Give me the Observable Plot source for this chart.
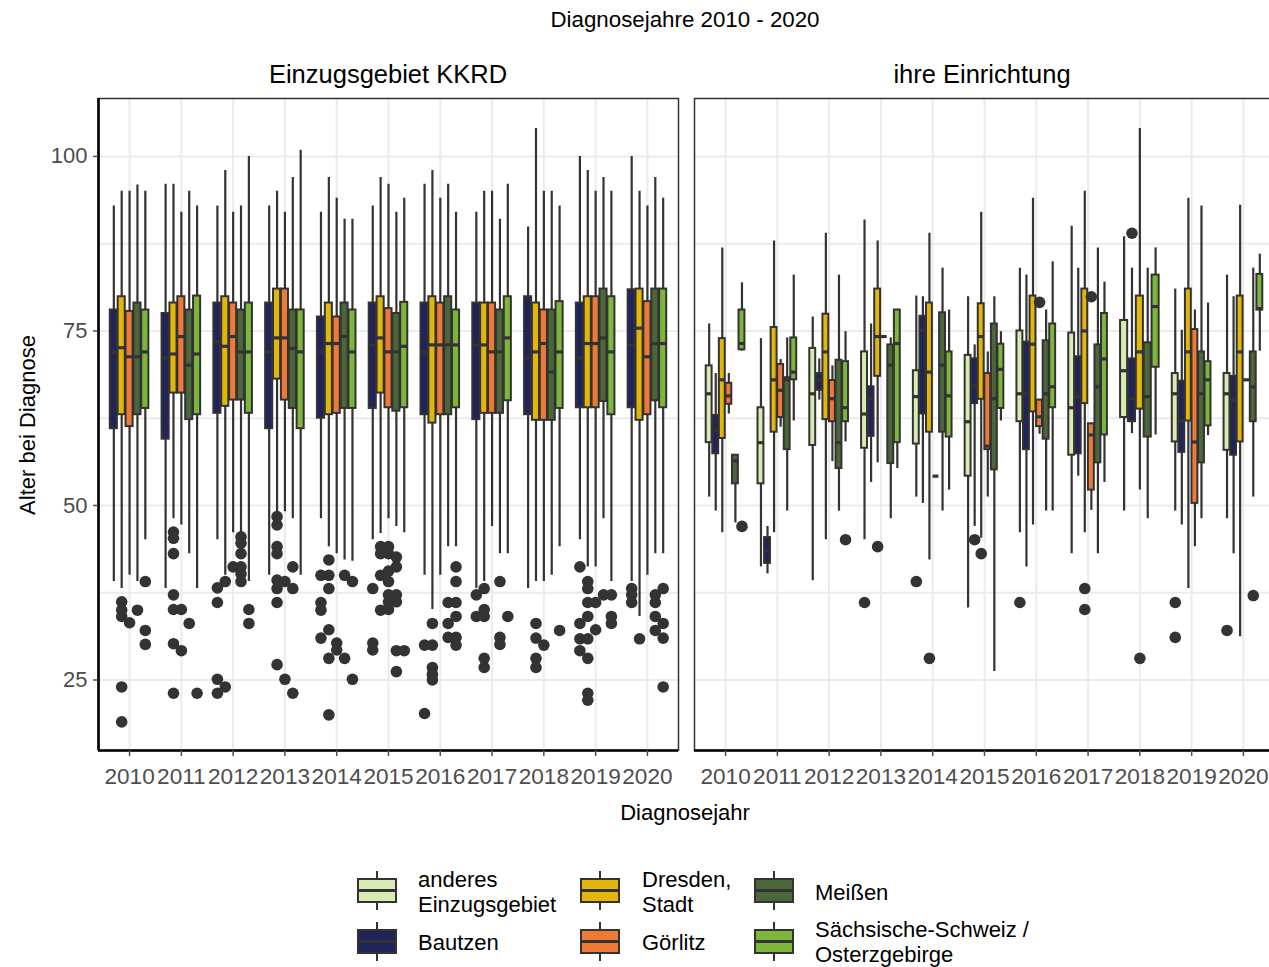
<!DOCTYPE html>
<html>
<head>
<meta charset="utf-8">
<script src="https://cdn.jsdelivr.net/npm/d3@7"></script>
<script src="https://cdn.jsdelivr.net/npm/@observablehq/plot@0.6"></script>
<style>
  html, body { margin: 0; padding: 0; width: 1269px; height: 967px; overflow: hidden; background: #fff; }
  body { position: relative; font-family: "Liberation Sans", Arial, sans-serif; color: #000; }
  .abs { position: absolute; white-space: nowrap; }
  .ctr { transform: translate(-50%, -50%); }
  .key { position: absolute; width: 40px; height: 25px; box-sizing: border-box; border: 2px solid #333; }
  .key .med { position: absolute; left: 0; right: 0; top: 50%; height: 3px; margin-top: -1.5px; background: #333; }
  .stub { position: absolute; width: 2px; background: #333; }
  .ltxt { position: absolute; font-size: 22px; line-height: 25px; white-space: nowrap; transform: translateY(-50%); }
</style>
</head>
<body>
<script>
// ---------------- data ----------------
const years = [2010, 2011, 2012, 2013, 2014, 2015, 2016, 2017, 2018, 2019, 2020];
const groups = ["anderes Einzugsgebiet", "Bautzen", "Dresden, Stadt", "Görlitz", "Meißen", "Sächsische-Schweiz / Osterzgebirge"];
const groupColors = ["#d7ebb2", "#20245a", "#e3b60c", "#ef7a38", "#4b6638", "#7cb63b"];
const legendLabels = [["anderes", "Einzugsgebiet"], ["Bautzen"], ["Dresden,", "Stadt"], ["Görlitz"], ["Meißen"], ["Sächsische-Schweiz /", "Osterzgebirge"]];
const panels = ["Einzugsgebiet KKRD", "ihre Einrichtung"];
const yTicks = [25, 50, 75, 100];
const yMinor = [37.5, 62.5, 87.5];

// box statistics per year: [lower whisker, Q1, median, Q3, upper whisker]; null = no cases
// --- Einzugsgebiet KKRD ---
const kkrdBautzen = [[39.1,61.0,72.0,78.0,92.9],[38.1,59.5,71.1,77.5,96.0],[45.1,63.2,73.5,79.0,92.9],[40.0,61.0,72.0,79.0,92.9],[48.1,62.5,72.0,77.0,92.0],[45.1,63.9,73.0,79.0,92.9],[40.0,63.0,72.0,79.0,96.0],[38.1,62.3,73.0,79.0,92.0],[38.1,63.0,71.1,79.9,89.9],[45.1,64.0,71.1,79.0,100.0],[39.1,64.0,73.0,80.9,100.0]];
const kkrdDresden = [[38.1,63.0,72.6,79.9,95.0],[48.1,66.1,71.7,79.0,96.0],[40.0,64.2,72.8,79.9,98.0],[49.1,68.1,74.0,81.0,95.0],[44.1,63.0,73.2,79.0,97.0],[46.0,66.1,74.0,79.9,97.0],[35.1,61.8,73.0,79.9,98.0],[39.1,63.2,73.0,79.0,95.0],[39.1,62.2,72.0,79.0,104.0],[41.2,64.0,73.2,79.9,98.0],[34.1,62.2,75.4,81.0,95.0]];
const kkrdGoerlitz = [[40.0,61.3,71.3,77.8,95.0],[47.2,66.1,74.2,79.9,92.0],[46.1,65.1,74.2,79.0,92.0],[49.1,65.1,74.0,81.0,92.0],[43.1,63.2,73.2,77.0,94.0],[48.1,64.0,72.0,78.2,96.0],[40.0,63.0,73.0,79.0,94.0],[47.0,63.2,72.0,79.0,95.0],[39.1,62.2,73.2,78.0,95.0],[41.2,64.0,73.2,79.9,95.0],[40.0,63.0,71.3,79.2,92.9]];
const kkrdMeissen = [[39.1,63.0,71.3,79.0,95.9],[43.1,62.3,70.1,78.0,95.0],[46.1,65.1,72.0,78.0,92.9],[48.1,63.9,72.5,78.0,97.0],[42.2,63.9,74.2,79.0,91.0],[47.0,63.5,72.0,77.5,92.0],[44.1,63.0,73.0,79.9,96.0],[43.1,63.2,72.0,78.0,91.0],[40.0,62.2,69.1,78.0,95.0],[48.1,64.9,74.0,81.0,97.0],[43.1,65.0,73.2,81.0,97.0]];
const kkrdSSO = [[45.1,63.9,72.0,78.0,95.0],[38.1,63.0,71.7,80.0,92.9],[39.1,63.2,72.0,79.0,100.0],[40.0,61.0,72.0,78.0,100.9],[42.0,63.9,72.0,78.0,91.0],[46.1,64.0,72.8,79.1,94.0],[44.1,64.0,73.0,78.0,92.0],[43.1,65.0,74.0,79.9,96.0],[44.1,63.9,72.0,79.2,92.9],[39.1,63.0,72.0,79.9,95.0],[43.1,64.0,73.2,81.0,94.0]];
// outliers: [year, age]
const kkrdBautzenOut = [[2012,38.2],[2012,36.1],[2012,25.1],[2012,23.1],[2014,40.0],[2014,36.1],[2014,35.0],[2014,31.0],[2015,38.1],[2015,30.3],[2015,29.3],[2016,30.0],[2016,20.2],[2017,37.2],[2017,34.1],[2019,41.2],[2019,33.1],[2019,30.9],[2019,29.2],[2020,38.1],[2020,37.2],[2020,36.1]];
const kkrdDresdenOut = [[2010,36.2],[2010,35.0],[2010,34.1],[2010,24.0],[2010,19.0],[2011,46.2],[2011,45.3],[2011,43.1],[2011,37.2],[2011,35.1],[2011,30.2],[2011,23.1],[2012,39.1],[2012,24.0],[2013,48.4],[2013,47.2],[2013,44.1],[2013,43.1],[2013,39.3],[2013,38.1],[2013,36.1],[2013,27.2],[2014,42.2],[2014,40.0],[2014,38.1],[2014,32.2],[2014,28.1],[2014,20.0],[2015,44.1],[2015,43.1],[2015,40.0],[2015,35.0],[2016,33.1],[2016,30.0],[2016,26.8],[2016,25.8],[2016,25.0],[2017,38.1],[2017,35.1],[2017,34.1],[2017,28.1],[2017,26.8],[2018,33.1],[2018,31.0],[2018,28.1],[2018,26.8],[2019,39.1],[2019,38.1],[2019,36.1],[2019,34.1],[2019,30.9],[2019,28.1],[2019,23.1],[2019,22.1],[2020,30.9]];
const kkrdGoerlitzOut = [[2010,33.2],[2011,35.1],[2011,29.2],[2012,41.2],[2013,39.1],[2013,25.1],[2014,30.3],[2014,29.3],[2015,44.1],[2015,43.1],[2015,40.6],[2015,39.1],[2015,37.2],[2015,36.2],[2015,35.1],[2018,30.0],[2019,36.1],[2019,32.2]];
const kkrdMeissenOut = [[2010,35.0],[2011,33.1],[2012,45.5],[2012,44.6],[2012,43.1],[2012,41.2],[2012,40.2],[2012,39.1],[2013,41.2],[2013,38.1],[2013,23.1],[2014,40.0],[2014,28.1],[2015,42.6],[2015,41.2],[2015,37.2],[2015,36.2],[2015,29.2],[2015,26.2],[2016,36.1],[2016,33.1],[2016,31.1],[2017,39.1],[2017,31.1],[2017,30.1],[2019,37.2],[2020,37.2],[2020,36.1],[2020,34.1],[2020,32.1]];
const kkrdSSOOut = [[2010,39.1],[2010,32.1],[2010,30.1],[2011,23.1],[2012,35.1],[2012,33.1],[2014,39.1],[2014,25.1],[2015,29.2],[2016,41.2],[2016,39.1],[2016,36.1],[2016,34.1],[2016,31.1],[2016,30.0],[2017,34.1],[2018,32.1],[2019,37.2],[2019,34.1],[2019,33.1],[2020,38.1],[2020,33.1],[2020,31.0],[2020,24.0]];

// --- ihre Einrichtung ---
const ownAnderes = [[51.2,59.0,66.0,70.0,76.0],[41.2,53.1,59.0,64.0,73.9],[39.2,58.6,66.0,72.5,77.0],[45.1,58.2,63.1,72.0,90.9],[51.2,58.8,65.6,69.3,80.0],[35.3,54.2,62.0,71.5,79.9],[46.1,62.0,66.0,75.0,84.0],[43.1,57.2,64.0,74.7,90.0],[49.2,62.6,69.3,76.5,88.5],[49.2,59.1,66.0,68.9,81.0],[48.1,57.9,66.0,68.9,83.0]];
const ownBautzen = [[49.2,57.4,60.8,62.9,68.9],[40.2,41.7,43.5,45.4,47.0],[65.1,66.5,68.0,68.9,71.0],[53.3,59.9,65.3,67.0,76.0],[50.3,63.1,75.1,77.1,79.9],[47.0,64.6,67.2,71.0,73.0],[41.2,58.0,66.0,73.4,83.0],[54.2,57.4,65.6,71.3,84.0],[60.3,62.0,65.3,71.0,84.0],[47.2,57.6,62.1,67.8,75.1],[43.1,57.2,65.1,68.5,79.9]];
const ownDresden = [[46.1,59.6,68.0,73.9,86.9],[46.1,60.5,68.0,75.5,87.9],[45.1,62.3,72.0,77.4,89.0],[56.1,68.5,74.2,81.0,87.9],[42.2,60.5,69.1,79.0,89.0],[45.3,65.2,74.2,78.9,92.0],[47.2,63.4,73.1,80.0,94.0],[46.1,64.6,75.0,81.0,95.0],[52.2,63.8,72.0,80.0,104.0],[38.1,62.1,72.0,81.0,94.0],[31.2,59.1,72.0,80.0,93.0]];
const ownGoerlitz = [[63.1,64.5,65.7,67.5,68.9],[61.2,62.6,66.5,70.2,70.9],[56.3,62.0,65.3,67.9,70.0],[74.2,74.2,74.2,74.2,74.2],[54.2,54.2,54.2,54.2,54.2],[51.2,58.0,58.5,68.9,72.0],[60.2,61.3,62.7,65.1,65.1],[49.3,52.2,60.1,61.7,61.7],null,[44.1,50.3,59.1,75.2,78.0],[68.0,68.0,68.0,68.0,68.0]];
const ownMeissen = [[47.5,53.1,56.4,57.2,57.2],[49.2,58.0,68.0,68.3,74.0],[49.2,55.3,59.0,70.8,83.0],[48.1,56.0,70.1,73.0,74.0],[49.2,60.5,70.1,77.6,84.0],[26.2,55.1,65.3,76.0,79.9],[49.2,59.5,66.0,73.6,78.0],[43.1,56.1,67.0,73.0,86.9],[48.1,59.8,65.6,73.3,84.0],[48.1,56.1,66.0,72.0,92.9],[51.2,62.0,67.0,72.0,84.0]];
const ownSSO = [[72.1,72.3,73.2,78.0,81.9],[62.1,68.0,69.1,74.0,83.0],[59.1,62.0,64.0,70.6,74.9],[55.3,59.0,73.2,78.0,78.1],[52.2,59.8,65.7,72.0,78.0],[62.1,63.9,69.5,73.1,74.9],[49.2,64.0,67.0,76.0,84.9],[53.3,60.1,71.0,77.5,82.0],[60.1,69.8,78.5,83.0,86.9],[60.0,61.4,68.0,70.6,79.0],[72.1,78.0,78.2,83.1,86.0]];
const ownAnderesOut = [[2013,36.1],[2014,39.1],[2016,36.1],[2019,36.1],[2019,31.1],[2020,32.1]];
const ownBautzenOut = [[2015,45.1],[2018,89.0]];
const ownDresdenOut = [[2013,44.1],[2014,28.1],[2015,43.1],[2017,38.1],[2017,35.1],[2018,28.1]];
const ownGoerlitzOut = [[2016,79.1],[2017,79.9]];
const ownMeissenOut = [[2020,37.1]];
const ownSSOOut = [[2010,47.0],[2012,45.1]];

// ---------------- build tables ----------------
const DODGE = 0.76;
function build(series) {
  const rows = [], outs = [];
  years.forEach((yr, yi) => {
    const present = series.filter(s => s.stats[yi] != null);
    const slot = DODGE / present.length;
    present.forEach((s, i) => {
      const cx = yr - DODGE / 2 + slot * (i + 0.5);
      const [lo, q1, med, q3, hi] = s.stats[yi];
      rows.push({group: s.group, cx, x1: cx - slot * 0.45, x2: cx + slot * 0.45, lo, q1, med, q3, hi});
      s.out.filter(d => d[0] === yr).forEach(d => outs.push({group: s.group, cx, v: d[1]}));
    });
  });
  return {rows, outs};
}
const left = build([
  {group: groups[1], stats: kkrdBautzen, out: kkrdBautzenOut},
  {group: groups[2], stats: kkrdDresden, out: kkrdDresdenOut},
  {group: groups[3], stats: kkrdGoerlitz, out: kkrdGoerlitzOut},
  {group: groups[4], stats: kkrdMeissen, out: kkrdMeissenOut},
  {group: groups[5], stats: kkrdSSO, out: kkrdSSOOut}
]);
const right = build([
  {group: groups[0], stats: ownAnderes, out: ownAnderesOut},
  {group: groups[1], stats: ownBautzen, out: ownBautzenOut},
  {group: groups[2], stats: ownDresden, out: ownDresdenOut},
  {group: groups[3], stats: ownGoerlitz, out: ownGoerlitzOut},
  {group: groups[4], stats: ownMeissen, out: ownMeissenOut},
  {group: groups[5], stats: ownSSO, out: ownSSOOut}
]);

const xDom = [2009.4, 2020.6];
const yDom = [14.9, 108.3];

function panel(data, isLeft) {
  const marks = [
    Plot.ruleY(yMinor, {stroke: "#ebebeb", strokeWidth: 2}),
    Plot.ruleY(yTicks, {stroke: "#ebebeb", strokeWidth: 2}),
    Plot.ruleX(years, {stroke: "#ebebeb", strokeWidth: 2}),
    Plot.ruleX(data.rows, {x: "cx", y1: "lo", y2: "hi", stroke: "#333", strokeWidth: 2.2}),
    Plot.rect(data.rows, {x1: "x1", x2: "x2", y1: "q1", y2: "q3", fill: "group", stroke: "#333", strokeWidth: 2}),
    Plot.ruleY(data.rows, {y: "med", x1: "x1", x2: "x2", stroke: "#333", strokeWidth: 3.2}),
    Plot.dot(data.outs, {x: "cx", y: "v", r: 5.8, fill: "#333", stroke: "none"}),
    Plot.frame({stroke: "#333", strokeWidth: 1.5}),
    Plot.ruleY([yDom[0]], {stroke: "#000", strokeWidth: 2.6}),
    Plot.axisX({ticks: years, tickFormat: "d", label: null, tickSize: 6, tickPadding: 11, fontSize: 22.6, color: "#4d4d4d", strokeWidth: 1.5})
  ];
  if (isLeft) {
    marks.push(Plot.ruleX([xDom[0]], {stroke: "#000", strokeWidth: 2.6}));
    marks.push(Plot.axisY({ticks: yTicks, label: null, tickSize: 5, tickPadding: 6, fontSize: 22, color: "#4d4d4d", strokeWidth: 1.5}));
  }
  return Plot.plot({
    width: isLeft ? 680 : 582,
    height: 800,
    marginLeft: isLeft ? 98 : 2,
    marginRight: isLeft ? 2 : 0,
    marginTop: 98,
    marginBottom: 50,
    x: {domain: xDom},
    y: isLeft ? {domain: yDom} : {domain: yDom, axis: null},
    color: {domain: groups, range: groupColors},
    style: {background: "transparent", fontFamily: "'Liberation Sans', Arial, sans-serif", fontSize: "22px", overflow: "visible"},
    marks
  });
}

const svgL = panel(left, true);
svgL.style.position = "absolute"; svgL.style.left = "0px"; svgL.style.top = "0px";
document.body.appendChild(svgL);
const svgR = panel(right, false);
svgR.style.position = "absolute"; svgR.style.left = "692px"; svgR.style.top = "0px";
document.body.appendChild(svgR);

// ---------------- texts ----------------
function addText(txt, x, y, size, extra) {
  const d = document.createElement("div");
  d.className = "abs ctr";
  d.textContent = txt;
  d.style.left = x + "px"; d.style.top = y + "px";
  d.style.fontSize = size + "px"; d.style.lineHeight = "1";
  if (extra) Object.assign(d.style, extra);
  document.body.appendChild(d);
  return d;
}
addText("Diagnosejahre 2010 - 2020", 685, 20, 22.3);
addText(panels[0], 388, 75, 25.5);
addText(panels[1], 982, 75, 25.5);
addText("Diagnosejahr", 685, 813, 22);
addText("Alter bei Diagnose", 28, 425, 22, {transform: "translate(-50%, -50%) rotate(-90deg)"});

// ---------------- legend ----------------
const legendPos = [
  {kx: 357, ky: 878, tx: 418, ty: 892},
  {kx: 357, ky: 929, tx: 418, ty: 942},
  {kx: 580, ky: 878, tx: 642, ty: 892},
  {kx: 580, ky: 929, tx: 642, ty: 942},
  {kx: 754, ky: 878, tx: 815, ty: 892},
  {kx: 754, ky: 929, tx: 815, ty: 942}
];
groups.forEach((g, i) => {
  const p = legendPos[i];
  const top = document.createElement("div");
  top.className = "stub"; top.style.left = (p.kx + 19) + "px"; top.style.top = (p.ky - 7) + "px"; top.style.height = "7px";
  document.body.appendChild(top);
  const bot = document.createElement("div");
  bot.className = "stub"; bot.style.left = (p.kx + 19) + "px"; bot.style.top = (p.ky + 25) + "px"; bot.style.height = "7px";
  document.body.appendChild(bot);
  const k = document.createElement("div");
  k.className = "key"; k.style.left = p.kx + "px"; k.style.top = p.ky + "px"; k.style.background = groupColors[i];
  const m = document.createElement("div"); m.className = "med"; k.appendChild(m);
  document.body.appendChild(k);
  const t = document.createElement("div");
  t.className = "ltxt"; t.style.left = p.tx + "px"; t.style.top = p.ty + "px";
  t.innerHTML = legendLabels[i].join("<br>");
  document.body.appendChild(t);
});
</script>
</body>
</html>
